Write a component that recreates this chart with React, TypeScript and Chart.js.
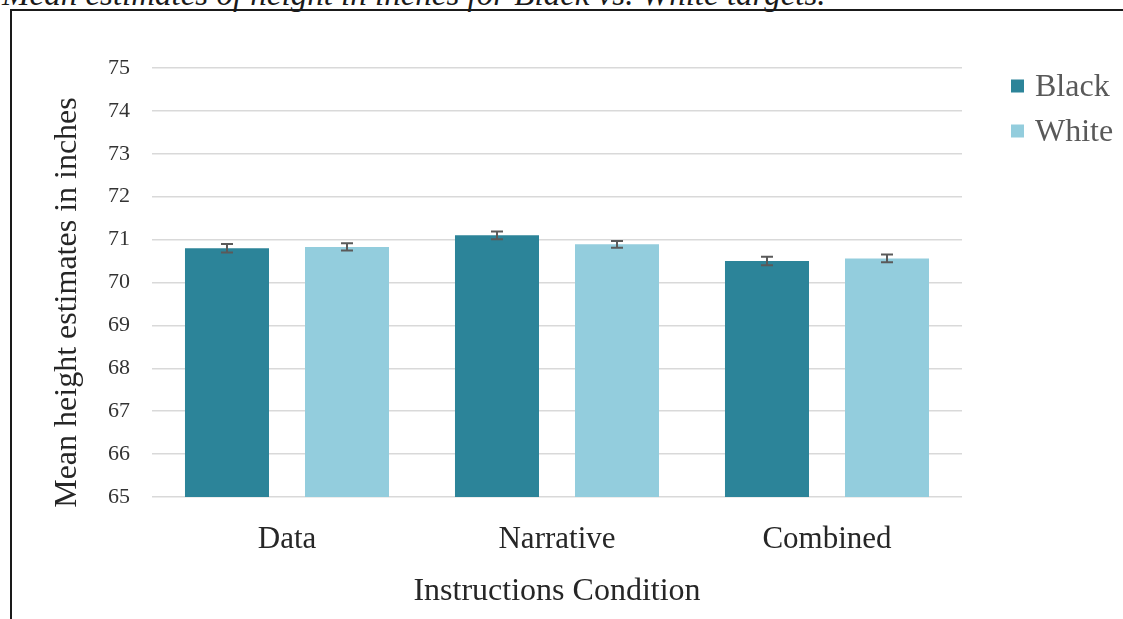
import React, { useEffect, useRef } from 'react';
import { Chart, registerables } from 'chart.js';

Chart.register(...registerables);

const titleText = 'Mean estimates of height in inches for Black vs. White targets.';
const categories = ['Data', 'Narrative', 'Combined'];
const seriesNames = ['Black', 'White'];
const seriesColors = ['#2C8499', '#93CDDD'];
const blackMeans = [70.8, 71.1, 70.5];
const whiteMeans = [70.83, 70.89, 70.56];
const blackErrors = [0.1, 0.09, 0.1];
const whiteErrors = [0.085, 0.08, 0.09];
const yMin = 65;
const yMax = 75;
const yStep = 1;
const xTitle = 'Instructions Condition';
const yTitle = 'Mean height estimates in inches';

const SERIF = '"Liberation Serif", "Times New Roman", serif';

const errorBarPlugin = {
  id: 'errorBars',
  afterDatasetsDraw(chart: any) {
    const { ctx } = chart;
    const yScale = chart.scales.y;
    chart.data.datasets.forEach((ds: any, i: number) => {
      const meta = chart.getDatasetMeta(i);
      if (meta.hidden) return;
      meta.data.forEach((bar: any, j: number) => {
        const v = ds.data[j];
        const e = ds.errors[j];
        const yTop = yScale.getPixelForValue(v + e);
        const yBot = yScale.getPixelForValue(v - e);
        const x = bar.x;
        ctx.save();
        ctx.strokeStyle = '#5A5A5A';
        ctx.lineWidth = 2;
        ctx.beginPath();
        ctx.moveTo(x, yTop);
        ctx.lineTo(x, yBot);
        ctx.moveTo(x - 6, yTop);
        ctx.lineTo(x + 6, yTop);
        ctx.moveTo(x - 6, yBot);
        ctx.lineTo(x + 6, yBot);
        ctx.stroke();
        ctx.restore();
      });
    });
  },
};

const legendPlugin = {
  id: 'sideLegend',
  afterDraw(chart: any) {
    const { ctx, chartArea } = chart;
    ctx.save();
    chart.data.datasets.forEach((ds: any, i: number) => {
      const boxX = chartArea.right + 49;
      const centerY = chartArea.top + 18 + i * 45;
      ctx.fillStyle = ds.backgroundColor;
      ctx.fillRect(boxX, centerY - 6.5, 13, 13);
      ctx.fillStyle = '#595959';
      ctx.font = `32px ${SERIF}`;
      ctx.textBaseline = 'alphabetic';
      ctx.textAlign = 'left';
      ctx.fillText(ds.label, chartArea.right + 73, centerY + 9.5);
    });
    ctx.restore();
  },
};

const yTitlePlugin = {
  id: 'yTitleText',
  afterDraw(chart: any) {
    const { ctx, chartArea } = chart;
    ctx.save();
    ctx.translate(68, (chartArea.top + chartArea.bottom) / 2 + 20);
    ctx.rotate(-Math.PI / 2);
    ctx.fillStyle = '#262626';
    ctx.font = `32px ${SERIF}`;
    ctx.textAlign = 'center';
    ctx.textBaseline = 'middle';
    ctx.fillText(yTitle, 0, 0);
    ctx.restore();
  },
};

function BarChart() {
  const ref = useRef<HTMLCanvasElement | null>(null);
  useEffect(() => {
    if (!ref.current) return;
    const chart = new Chart(ref.current, {
      type: 'bar',
      data: {
        labels: categories,
        datasets: [
          {
            label: seriesNames[0],
            data: blackMeans,
            errors: blackErrors,
            backgroundColor: seriesColors[0],
            barPercentage: 0.7,
            categoryPercentage: 0.889,
          } as any,
          {
            label: seriesNames[1],
            data: whiteMeans,
            errors: whiteErrors,
            backgroundColor: seriesColors[1],
            barPercentage: 0.7,
            categoryPercentage: 0.889,
          } as any,
        ],
      },
      options: {
        animation: false,
        responsive: false,
        maintainAspectRatio: false,
        devicePixelRatio: 1,
        layout: { padding: { top: 68, left: 0, right: 161, bottom: 0 } },
        plugins: {
          legend: { display: false },
          tooltip: { enabled: false },
          title: { display: false },
        },
        scales: {
          x: {
            grid: { display: false, drawTicks: false },
            border: { display: false },
            ticks: {
              padding: 24,
              color: '#262626',
              font: { family: SERIF, size: 31 },
              maxRotation: 0,
            },
            title: {
              display: true,
              text: xTitle,
              color: '#262626',
              font: { family: SERIF, size: 32 },
              padding: { top: 0, bottom: 8 },
            },
            afterFit: (scale: any) => {
              scale.height = 122;
            },
          },
          y: {
            min: yMin,
            max: yMax,
            grid: { color: '#D9D9D9', lineWidth: 1.5, drawTicks: false },
            border: { display: false },
            ticks: {
              stepSize: yStep,
              padding: 22,
              color: '#333333',
              font: { family: SERIF, size: 22 },
            },
            title: { display: false },
            afterFit: (scale: any) => {
              scale.width = 152;
            },
          },
        },
      } as any,
      plugins: [errorBarPlugin, legendPlugin, yTitlePlugin],
    });
    return () => chart.destroy();
  }, []);
  return (
    <canvas
      ref={ref}
      width={1123}
      height={619}
      style={{ position: 'absolute', left: 0, top: 0, width: 1123, height: 619 }}
    />
  );
}

export default function App() {
  return (
    <div
      style={{
        position: 'fixed',
        left: 0,
        top: 0,
        width: 1123,
        height: 619,
        overflow: 'hidden',
        background: '#ffffff',
      }}
    >
      <div
        style={{
          position: 'absolute',
          left: 2,
          top: -22,
          fontFamily: SERIF,
          fontStyle: 'italic',
          fontSize: 33,
          lineHeight: '33px',
          whiteSpace: 'nowrap',
          color: '#1a1a1a',
        }}
      >
        {titleText}
      </div>
      <div
        style={{
          position: 'absolute',
          left: 10,
          top: 9,
          width: 1300,
          height: 900,
          border: '2px solid #1a1a1a',
          boxSizing: 'border-box',
        }}
      />
      <BarChart />
    </div>
  );
}
